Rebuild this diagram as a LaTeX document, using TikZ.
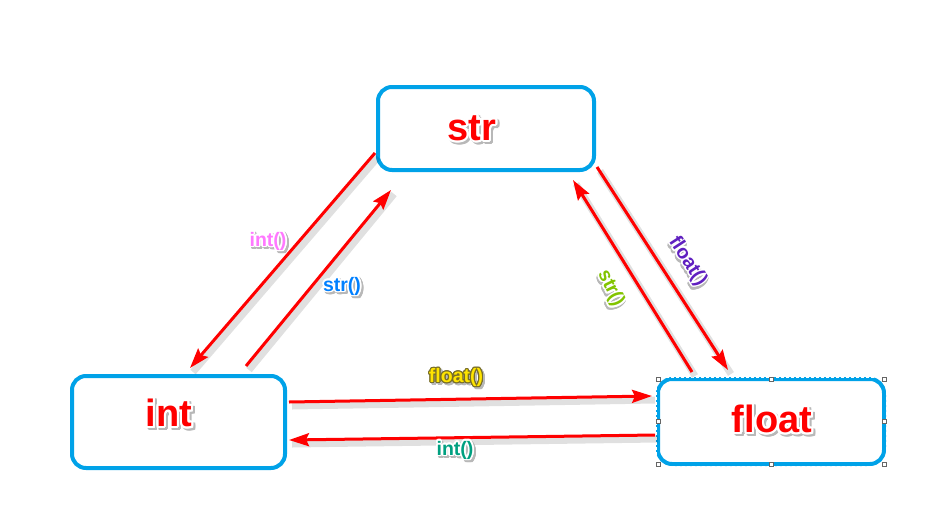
\documentclass[tikz,border=0pt]{standalone}
\usepackage{fontspec}
\setmainfont{Liberation Sans}
\usepackage{contour}
\usetikzlibrary{calc,arrows.meta}
\definecolor{boxblue}{RGB}{0,162,232}
\definecolor{arrred}{RGB}{255,0,0}
\definecolor{lpink}{RGB}{255,120,255}
\definecolor{lblue}{RGB}{0,128,255}
\definecolor{lpurple}{RGB}{96,32,192}
\definecolor{lgreen}{RGB}{130,196,0}
\definecolor{lyellow}{RGB}{255,228,0}
\definecolor{lteal}{RGB}{0,160,128}
\definecolor{olive}{RGB}{120,110,40}
\newcommand{\shtxt}[4]{% #1 text colour, #2 outline colour, #3 contour length, #4 text
  \contourlength{#3}%
  \makebox[0pt][l]{\hspace{2pt}\raisebox{-2pt}{\textcolor{black!28}{\contour{black!28}{#4}}}}%
  \textcolor{#1}{\contour{#2}{#4}}}
\tikzset{
  box/.style={draw=boxblue, line width=4pt, fill=white, rounded corners=14pt,
    inner sep=0pt, outer sep=0pt},
  boxtext/.style={inner sep=0pt, font=\fontsize{38}{40}\selectfont\bfseries},
  lbl/.style={inner sep=0pt, font=\fontsize{19.5}{22}\selectfont\bfseries},
  conv/.style={draw=arrred, line width=3pt,
    -{Stealth[length=20pt,width=13pt,inset=3pt]}},
  convshadow/.style={draw=black, opacity=0.12, line width=7pt},
  handle/.style={draw=black!60, fill=white, line width=0.6pt, minimum size=4pt,
    inner sep=0pt}
}
\begin{document}
\begin{tikzpicture}[x=1pt,y=-1pt]
\useasboundingbox (0,0) rectangle (929,504);
\fill[white] (0,0) rectangle (929,504);

% boxes
\node[box, minimum width=216pt, minimum height=83pt] (str) at (486,128.5) {};
\node[box, minimum width=213pt, minimum height=92pt] (int) at (178.5,422) {};
\node[box, minimum width=226pt, minimum height=85pt] (float) at (771,421.5) {};

% selection frame on float
\draw[white, line width=0.7pt, dash pattern=on 3pt off 2pt]
  (float.north west) ++(-2,-2) rectangle ($(float.south east)+(2,2)$);
\foreach \a/\n in {north west/h1, north/h2, north east/h3, west/h4, east/h5,
  south west/h6, south/h7, south east/h8}
  \node[handle] (\n) at ($(float.\a)$) {};

% box labels
\node[boxtext] (strlbl) at (472,130) {\shtxt{arrred}{white}{2.2pt}{str}};
\node[boxtext] (intlbl) at (169,415) {\shtxt{arrred}{white}{2.2pt}{int}};
\node[boxtext] (floatlbl) at (772,421) {\shtxt{arrred}{white}{2.2pt}{float}};

% arrow end points
\coordinate (a1s) at ($(str.west)+(-3,24.5)$);
\coordinate (a1e) at ($(int.north)+(11.5,-8)$);
\coordinate (a2s) at ($(int.north)+(67.5,-10)$);
\coordinate (a2e) at ($(str.south)+(-95,20)$);
\coordinate (a3s) at ($(float.north)+(-79,-7)$);
\coordinate (a3e) at ($(str.south)+(87,10)$);
\coordinate (a4s) at ($(str.east)+(3,38.5)$);
\coordinate (a4e) at ($(float.north)+(-43,-9)$);
\coordinate (a5s) at ($(int.east)+(4,-20)$);
\coordinate (a5e) at ($(float.west)+(-6,-25.5)$);
\coordinate (a6s) at ($(float.west)+(-3,13.5)$);
\coordinate (a6e) at ($(int.east)+(4,18)$);

% shadows
\foreach \i in {1,...,6}
  \draw[convshadow] ([xshift=3pt,yshift=-4pt]a\i s) -- ([xshift=3pt,yshift=-4pt]a\i e);

% arrows
\foreach \i in {1,...,6}
  \draw[conv] (a\i s) -- (a\i e);

% arrow labels
\node[lbl] (l1) at (268,243) {\shtxt{lpink}{white}{1.6pt}{int()}};
\node[lbl] (l2) at (342,288) {\shtxt{lblue}{white}{1.6pt}{str()}};
\node[lbl, rotate=-64] (l3) at (609,289) {\shtxt{lgreen}{white}{1.6pt}{str()}};
\node[lbl, rotate=-57] (l4) at (686,262) {\shtxt{lpurple}{white}{1.6pt}{float()}};
\node[lbl] (l5) at (456,379) {\shtxt{lyellow}{olive}{1.1pt}{float()}};
\node[lbl] (l6) at (455,452) {\shtxt{lteal}{white}{1.6pt}{int()}};
\end{tikzpicture}
\end{document}
